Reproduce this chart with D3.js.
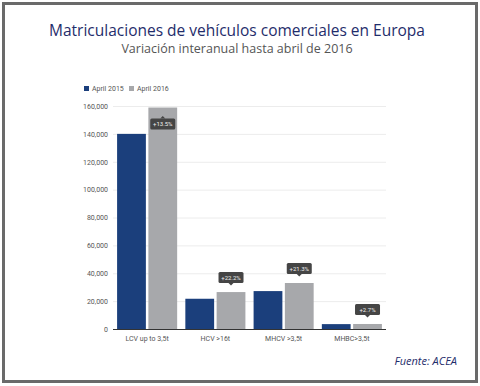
<!DOCTYPE html>
<html lang="es">
<head>
  <meta charset="utf-8">
  <title>Matriculaciones de vehículos comerciales en Europa</title>
  <script src="https://cdnjs.cloudflare.com/ajax/libs/d3/7.8.5/d3.min.js"></script>
  <style>
    body { margin: 0; background: #fff; }
    .grid line { stroke: #ececec; }
    .grid path { display: none; }
    .axis text { font-family: Roboto, sans-serif; font-size: 7px; fill: #555; }
  </style>
</head>
<body>
  <script>
    var w = 480;
    var h = 386;

    var categories = ['LCV up to 3,5t', 'HCV >16t', 'MHCV >3,5t', 'MHBC>3,5t'];
    var series = ['April 2015', 'April 2016'];
    var values2015 = [140000, 21700, 27200, 3500];
    var values2016 = [158900, 26500, 33000, 3600];
    var changes = ['+13.5%', '+22.2%', '+21.3%', '+2.7%'];
    var yTicks = [0, 20000, 40000, 60000, 80000, 100000, 120000, 140000, 160000];

    var colors = ['#1b3f7c', '#a7a8ab'];

    var margin = { top: 106, left: 113, right: 94, bottom: 57 };

    var svg = d3.select('body')
      .append('svg')
      .attr('width', w)
      .attr('height', h);

    // frame
    svg.append('rect')
      .attr('x', 3.5).attr('y', 3.5)
      .attr('width', 473).attr('height', 378)
      .attr('fill', '#fff')
      .attr('stroke', '#6a6a6a')
      .attr('stroke-width', 3);

    svg.append('text')
      .attr('x', 237).attr('y', 36)
      .attr('text-anchor', 'middle')
      .attr('font-family', 'Open Sans, sans-serif')
      .attr('font-size', 15.5)
      .attr('fill', '#1f2d6b')
      .text('Matriculaciones de vehículos comerciales en Europa');

    svg.append('text')
      .attr('x', 237).attr('y', 53)
      .attr('text-anchor', 'middle')
      .attr('font-family', 'Open Sans, sans-serif')
      .attr('font-size', 12.5)
      .attr('fill', '#555')
      .text('Variación interanual hasta abril de 2016');

    var x0 = d3.scaleBand()
      .domain(categories)
      .range([margin.left, w - margin.right])
      .paddingInner(0.12)
      .paddingOuter(0.06);

    var x1 = d3.scaleBand()
      .domain(series)
      .range([0, x0.bandwidth()])
      .paddingInner(0.08);

    var y = d3.scaleLinear()
      .domain([0, 160000])
      .range([h - margin.bottom, margin.top]);

    // grid + y labels
    svg.append('g')
      .attr('class', 'grid axis')
      .attr('transform', 'translate(' + margin.left + ',0)')
      .call(d3.axisLeft(y)
        .tickValues(yTicks)
        .tickSize(-(w - margin.right - margin.left))
        .tickPadding(5)
        .tickFormat(d3.format(',')))
      .selectAll('line')
      .filter(d => d === 0)
      .remove();

    var groups = svg.append('g')
      .selectAll('g')
      .data(categories)
      .join('g')
      .attr('transform', d => 'translate(' + x0(d) + ',0)');

    groups.selectAll('rect')
      .data((d, i) => [values2015[i], values2016[i]].map((v, j) => ({ key: series[j], value: v })))
      .join('rect')
      .attr('x', d => x1(d.key))
      .attr('y', d => y(d.value))
      .attr('width', x1.bandwidth())
      .attr('height', d => y(0) - y(d.value))
      .attr('fill', (d, j) => colors[j]);

    // baseline
    svg.append('line')
      .attr('x1', margin.left).attr('x2', w - margin.right)
      .attr('y1', y(0) + 0.5).attr('y2', y(0) + 0.5)
      .attr('stroke', '#333')
      .attr('stroke-width', 1);

    // x labels
    svg.append('g')
      .attr('class', 'axis')
      .attr('transform', 'translate(0,' + (y(0) + 1) + ')')
      .call(d3.axisBottom(x0).tickSize(0).tickPadding(6))
      .call(g => g.select('.domain').remove());

    // change labels
    var tipW = 25, tipH = 11;
    categories.forEach(function (c, i) {
      var cx = x0(c) + x1(series[1]) + x1.bandwidth() / 2;
      var top = y(values2016[i]);
      var below = top - margin.top < 20;
      var by = below ? top + 11 : top - 20;
      var g = svg.append('g');
      g.append('rect')
        .attr('x', cx - tipW / 2).attr('y', by)
        .attr('width', tipW).attr('height', tipH)
        .attr('rx', 1.5)
        .attr('fill', '#454545');
      var tri = below
        ? [[cx - 2.5, by], [cx + 2.5, by], [cx, by - 2.5]]
        : [[cx - 2.5, by + tipH], [cx + 2.5, by + tipH], [cx, by + tipH + 2.5]];
      g.append('path')
        .attr('d', d3.line()(tri) + 'Z')
        .attr('fill', '#454545');
      g.append('text')
        .attr('x', cx).attr('y', by + 7.8)
        .attr('text-anchor', 'middle')
        .attr('font-family', 'Roboto, sans-serif')
        .attr('font-size', 6)
        .attr('fill', '#eee')
        .text(changes[i]);
    });

    // legend
    var legend = svg.append('g')
      .selectAll('g')
      .data(series)
      .join('g')
      .attr('transform', (d, i) => 'translate(' + (84 + i * 45) + ',86)');
    legend.append('rect')
      .attr('width', 5).attr('height', 5)
      .attr('fill', (d, i) => colors[i]);
    legend.append('text')
      .attr('x', 8).attr('y', 5)
      .attr('font-family', 'Roboto, sans-serif')
      .attr('font-size', 7)
      .attr('fill', '#555')
      .text(d => d);

    svg.append('text')
      .attr('x', 457).attr('y', 365)
      .attr('text-anchor', 'end')
      .attr('font-family', 'Open Sans, sans-serif')
      .attr('font-style', 'italic')
      .attr('font-size', 11)
      .attr('fill', '#1f2d6b')
      .text('Fuente: ACEA');
  </script>
</body>
</html>
